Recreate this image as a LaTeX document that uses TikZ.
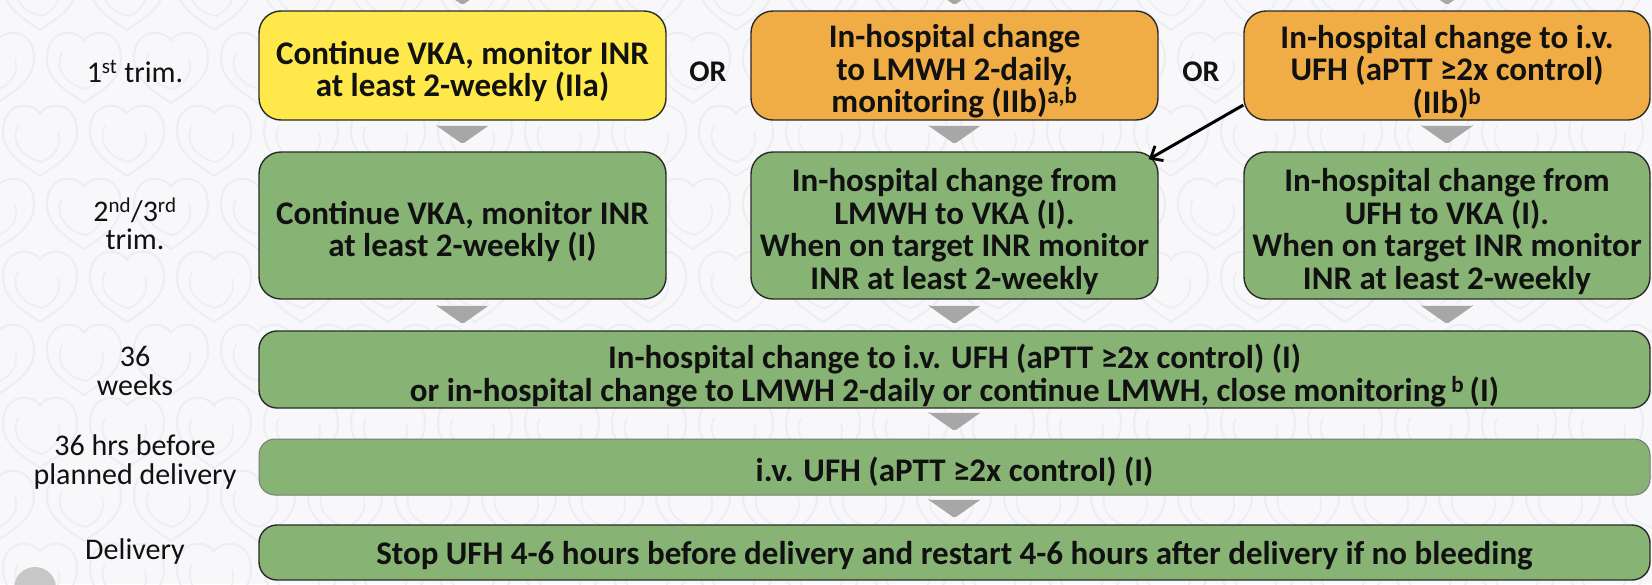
\documentclass[tikz,border=0pt]{standalone}
\usepackage{fontspec}
\setmainfont{Carlito}
\usetikzlibrary{arrows.meta,calc}

\definecolor{bgcol}{HTML}{F8F8FA}
\definecolor{heartcol}{HTML}{EDEDF4}
\definecolor{yelfill}{HTML}{FFE94A}
\definecolor{orafill}{HTML}{F1AD45}
\definecolor{grnfill}{HTML}{87B474}
\definecolor{edgecol}{HTML}{2A2A2A}
\definecolor{softedge}{HTML}{7A7A7A}
\definecolor{tricol}{HTML}{A7A7A7}
\definecolor{ink}{HTML}{111111}

\newcommand\boxfont{\fontsize{33}{32.5}\selectfont\bfseries}
\newcommand\lblfont{\fontsize{30}{28.5}\selectfont}

\tikzset{
  box/.style={draw=edgecol, line width=1.4pt, rounded corners=22pt, inner sep=0pt},
  colbox/.style={box, minimum width=407pt},
  widebox/.style={box, minimum width=1391pt, rounded corners=18pt},
  yelbox/.style={colbox, fill=yelfill},
  orabox/.style={colbox, fill=orafill},
  grnbox/.style={colbox, fill=grnfill},
  boxtext/.style={align=center, font=\boxfont, text=ink, inner sep=0pt},
  lbl/.style={align=center, font=\lblfont, text=ink},
  orlbl/.style={font=\fontsize{30}{30}\selectfont\bfseries, text=ink},
  conn/.style={line width=3pt, draw=black,
    -{Straight Barb[length=10pt,width=17pt,line width=2.8pt]}},
  downtri/.pic={
    \fill[tricol, rounded corners=2pt] (-27,0) -- (27,0) -- (0,19) -- cycle;
    \draw[white!80!tricol, line width=1pt] (-25,0.8) -- (25,0.8);
  },
  heart/.pic={
    \draw[heartcol, line width=2pt]
      (0,10) .. controls (-6,-2) and (-36,-4) .. (-37,26)
             .. controls (-38,50) and (-14,62) .. (0,72)
             .. controls (14,62) and (38,50) .. (37,26)
             .. controls (36,-4) and (6,-2) .. (0,10);
    \draw[heartcol, line width=1.6pt]
      (-22,22) .. controls (-30,38) and (-18,54) .. (2,58)
               .. controls (16,52) and (22,40) .. (18,28);
  }
}

\begin{document}
\begin{tikzpicture}[x=1pt,y=-1pt]
  \useasboundingbox (0,0) rectangle (1652,584);
  \clip (0,0) rectangle (1652,584);
  \fill[bgcol] (0,0) rectangle (1652,584);

  % faint heart texture in the background
  \foreach \r in {0,...,8}{
    \foreach \c in {0,...,20}{
      \pgfmathsetmacro{\hx}{\c*87 + 40 - mod(\r,2)*43}
      \pgfmathsetmacro{\hy}{\r*73 - 42}
      \pic at (\hx,\hy) {heart};
    }
  }

  % arrows entering the first row from above
  \pic at (462.5,-14) {downtri};
  \pic at (954.5,-14) {downtri};
  \pic at (1447,-14) {downtri};

  % boxes
  \node[yelbox, minimum height=109pt] (a1) at (462.5,65.5) {};
  \node[orabox, minimum height=109pt] (b1) at (954.5,65.5) {};
  \node[orabox, minimum height=109pt, minimum width=406pt] (c1) at (1447,65.5) {};
  \node[grnbox, minimum height=147pt] (a2) at (462.5,225.5) {};
  \node[grnbox, minimum height=147pt] (b2) at (954.5,225.5) {};
  \node[grnbox, minimum height=147pt, minimum width=406pt] (c2) at (1447,225.5) {};
  \node[widebox, fill=grnfill, minimum height=77pt] (r3) at (954.5,369.5) {};
  \node[widebox, fill=grnfill, draw=softedge, line width=1pt, rounded corners=16pt,
        minimum height=56pt] (r4) at (954.5,467) {};
  \node[widebox, fill=grnfill, minimum height=55pt] (r5) at (954.5,552.5) {};

  % box texts
  \node[boxtext] (a1t) at ($(a1.center)+(0,6)$)
    {Continue VKA, monitor INR\\at least 2-weekly (IIa)};
  \node[boxtext] (b1t) at ($(b1.center)+(0,6)$)
    {In-hospital change\\to LMWH 2-daily,\\monitoring (IIb)\textsuperscript{a,b}};
  \node[boxtext] (c1t) at ($(c1.center)+(0,6)$)
    {In-hospital change to i.v.\\UFH (aPTT ≥2x control)\\(IIb)\textsuperscript{b}};
  \node[boxtext] (a2t) at ($(a2.center)+(0,6)$)
    {Continue VKA, monitor INR\\at least 2-weekly (I)};
  \node[boxtext] (b2t) at ($(b2.center)+(0,6)$)
    {In-hospital change from\\LMWH to VKA (I).\\When on target INR monitor\\INR at least 2-weekly};
  \node[boxtext] (c2t) at ($(c2.center)+(0,6)$)
    {In-hospital change from\\UFH to VKA (I).\\When on target INR monitor\\INR at least 2-weekly};
  \node[boxtext] (r3t) at ($(r3.center)+(0,6)$)
    {In-hospital change to i.v. UFH (aPTT ≥2x control) (I)\\or in-hospital change to LMWH 2-daily or continue LMWH, close monitoring\,\textsuperscript{b}\,(I)};
  \node[boxtext] (r4t) at ($(r4.center)+(0,5)$)
    {i.v. UFH (aPTT ≥2x control) (I)};
  \node[boxtext] (r5t) at ($(r5.center)+(0,3)$)
    {Stop UFH 4-6 hours before delivery and restart 4-6 hours after delivery if no bleeding};

  \node[orlbl] (or1) at (708,72) {OR};
  \node[orlbl] (or2) at (1201,72) {OR};

  % step markers between the rows
  \foreach \x in {462.5,954.5,1447}{
    \pic at (\x,125) {downtri};
    \pic at (\x,305) {downtri};
  }
  \pic at (954.5,412) {downtri};
  \pic at (954.5,499) {downtri};

  % switch from UFH back to the LMWH/VKA path
  \draw[conn] (c1.191) -- ($(b2.north east)+(-10,8)$);

  % stage labels
  \node[lbl] (l1) at (135,71) {1\textsuperscript{st} trim.};
  \node[lbl] (l2) at (135,224) {2\textsuperscript{nd}/3\textsuperscript{rd}\\trim.};
  \node[lbl] (l3) at (135,371) {36\\weeks};
  \node[lbl] (l4) at (135,462) {36 hrs before\\planned delivery};
  \node[lbl] (l5) at (135,551) {Delivery};

  % partly visible round button in the corner
  \fill[black!22] (35,588) circle (21pt);
\end{tikzpicture}
\end{document}
